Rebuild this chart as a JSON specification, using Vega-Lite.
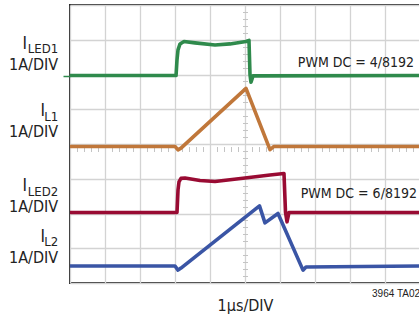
{
  "$schema": "https://vega.github.io/schema/vega-lite/v6.json",
  "width": 350,
  "height": 278,
  "autosize": {"type": "none"},
  "padding": {"left": 70, "top": 5, "right": 0, "bottom": 37},
  "background": "white",
  "config": {
    "view": {"stroke": "#2a2a2a", "strokeWidth": 2},
    "font": "DejaVu Sans Condensed, DejaVu Sans"
  },
  "datasets": {
    "traces": [
      {"s": "ILED1", "t": 0, "v": 5.97}, {"s": "ILED1", "t": 3.03, "v": 5.97}, {"s": "ILED1", "t": 3.057, "v": 6.42}, {"s": "ILED1", "t": 3.086, "v": 6.71}, {"s": "ILED1", "t": 3.143, "v": 6.88}, {"s": "ILED1", "t": 3.257, "v": 6.95}, {"s": "ILED1", "t": 3.571, "v": 6.91}, {"s": "ILED1", "t": 4.143, "v": 6.85}, {"s": "ILED1", "t": 4.571, "v": 6.88}, {"s": "ILED1", "t": 5.029, "v": 6.95}, {"s": "ILED1", "t": 5.114, "v": 6.98}, {"s": "ILED1", "t": 5.143, "v": 5.99}, {"s": "ILED1", "t": 5.171, "v": 5.78}, {"s": "ILED1", "t": 5.229, "v": 5.96}, {"s": "ILED1", "t": 10, "v": 5.97},
      {"s": "IL1", "t": 0, "v": 3.93}, {"s": "IL1", "t": 3.0, "v": 3.93}, {"s": "IL1", "t": 3.086, "v": 3.83}, {"s": "IL1", "t": 3.171, "v": 3.88}, {"s": "IL1", "t": 5.029, "v": 5.6}, {"s": "IL1", "t": 5.714, "v": 3.84}, {"s": "IL1", "t": 5.829, "v": 3.93}, {"s": "IL1", "t": 10, "v": 3.93},
      {"s": "ILED2", "t": 0, "v": 2.03}, {"s": "ILED2", "t": 3.057, "v": 2.03}, {"s": "ILED2", "t": 3.086, "v": 2.68}, {"s": "ILED2", "t": 3.114, "v": 2.91}, {"s": "ILED2", "t": 3.171, "v": 3.01}, {"s": "ILED2", "t": 3.286, "v": 3.02}, {"s": "ILED2", "t": 3.714, "v": 2.95}, {"s": "ILED2", "t": 4.143, "v": 2.92}, {"s": "ILED2", "t": 5.0, "v": 3.02}, {"s": "ILED2", "t": 5.714, "v": 3.11}, {"s": "ILED2", "t": 6.114, "v": 3.15}, {"s": "ILED2", "t": 6.157, "v": 2.04}, {"s": "ILED2", "t": 6.2, "v": 1.76}, {"s": "ILED2", "t": 6.257, "v": 2.03}, {"s": "ILED2", "t": 10, "v": 2.03},
      {"s": "IL2", "t": 0, "v": 0.49}, {"s": "IL2", "t": 3.0, "v": 0.49}, {"s": "IL2", "t": 3.086, "v": 0.37}, {"s": "IL2", "t": 3.171, "v": 0.43}, {"s": "IL2", "t": 5.414, "v": 2.22}, {"s": "IL2", "t": 5.571, "v": 1.73}, {"s": "IL2", "t": 5.943, "v": 2.0}, {"s": "IL2", "t": 6.657, "v": 0.37}, {"s": "IL2", "t": 6.743, "v": 0.46}, {"s": "IL2", "t": 10, "v": 0.49}
    ],
    "labels": [
      {"sub": "LED1", "lv": 6.13, "kind": "long"},
      {"sub": "L1", "lv": 4.2, "kind": "short"},
      {"sub": "LED2", "lv": 2.04, "kind": "long"},
      {"sub": "L2", "lv": 0.58, "kind": "short"}
    ],
    "notes": [
      {"label": "PWM DC = 4/8192", "t": 6.51, "v": 6.22},
      {"label": "PWM DC = 6/8192", "t": 6.59, "v": 2.45}
    ],
    "foot": [
      {"label": "3964 TA02b", "t": 8.63, "v": -0.4}
    ]
  },
  "resolve": {"axis": {"x": "independent", "y": "independent"}},
  "layer": [
    {
      "data": {"name": "traces"},
      "mark": {"type": "line", "strokeWidth": 3.6, "strokeJoin": "round", "clip": false},
      "encoding": {
        "x": {"field": "t", "type": "quantitative", "scale": {"domain": [0, 10], "nice": false, "zero": false},
          "axis": {"values": [0,1,2,3,4,5,6,7,8,9,10], "grid": true, "gridColor": "#d3d3d3", "gridWidth": 1.3, "ticks": false, "labels": false, "domain": false, "title": "1μs/DIV", "titleFont": "DejaVu Sans Condensed, DejaVu Sans", "titleFontSize": 16, "titleFontWeight": "normal", "titleColor": "#222", "titleBaseline": "alphabetic", "titleY": 27}},
        "y": {"field": "v", "type": "quantitative", "scale": {"domain": [0, 8], "nice": false, "zero": false},
          "axis": {"values": [0,1,2,3,4,5,6,7,8,5.97,3.93,2.03,0.49], "grid": true,
            "gridColor": {"condition": {"test": "datum.value % 1 === 0", "value": "#d3d3d3"}, "value": "transparent"},
            "gridWidth": 1.3,
            "tickColor": {"condition": {"test": "datum.value === 5.97", "value": "#2f8a4c"}, "value": {"expr": "datum.value === 3.93 ? '#c0773a' : datum.value === 2.03 ? '#990b33' : datum.value === 0.49 ? '#3a55a5' : 'transparent'"}},
            "tickSize": 7, "tickWidth": 1.5, "labels": false, "domain": false, "title": null}},
        "color": {"field": "s", "type": "nominal", "scale": {"domain": ["ILED1", "IL1", "ILED2", "IL2"], "range": ["#2f8a4c", "#c0773a", "#990b33", "#3a55a5"]}, "legend": null},
        "detail": {"field": "s"}
      }
    },
    {
      "data": {"name": "notes"},
      "mark": {"type": "text", "align": "left", "baseline": "alphabetic", "fontSize": 14, "color": "#222"},
      "encoding": {
        "x": {"field": "t", "type": "quantitative",
          "axis": {"values": [0.2,0.4,0.6,0.8,1.2,1.4,1.6,1.8,2.2,2.4,2.6,2.8,3.2,3.4,3.6,3.8,4.2,4.4,4.6,4.8,5.2,5.4,5.6,5.8,6.2,6.4,6.6,6.8,7.2,7.4,7.6,7.8,8.2,8.4,8.6,8.8,9.2,9.4,9.6,9.8], "orient": "bottom", "offset": -136.5, "grid": false, "domain": false, "labels": false, "tickSize": 5, "tickColor": "#c4c4c4", "tickWidth": 1, "title": null}},
        "y": {"field": "v", "type": "quantitative",
          "axis": {"values": [0.2,0.4,0.6,0.8,1.2,1.4,1.6,1.8,2.2,2.4,2.6,2.8,3.2,3.4,3.6,3.8,4.2,4.4,4.6,4.8,5.2,5.4,5.6,5.8,6.2,6.4,6.6,6.8,7.2,7.4,7.6,7.8], "orient": "left", "offset": -177.5, "grid": false, "domain": false, "labels": false, "tickSize": 5, "tickColor": "#c4c4c4", "tickWidth": 1, "title": null}},
        "text": {"field": "label"}
      }
    },
    {
      "data": {"name": "foot"},
      "mark": {"type": "text", "align": "left", "baseline": "alphabetic", "fontSize": 10, "font": "Liberation Sans", "color": "#222", "clip": false},
      "encoding": {
        "x": {"field": "t", "type": "quantitative", "axis": null},
        "y": {"field": "v", "type": "quantitative", "axis": null},
        "text": {"field": "label"}
      }
    },
    {
      "data": {"name": "labels"},
      "mark": {"type": "text", "align": "right", "baseline": "alphabetic", "fontSize": 16, "color": "#222"},
      "encoding": {
        "x": {"datum": -0.34, "type": "quantitative", "axis": null},
        "y": {"field": "lv", "type": "quantitative", "axis": null},
        "text": {"value": "1A/DIV"}
      }
    },
    {
      "data": {"name": "labels"},
      "mark": {"type": "text", "align": "right", "baseline": "alphabetic", "fontSize": 13, "color": "#222", "dy": -16.5},
      "encoding": {
        "x": {"datum": -0.34, "type": "quantitative", "axis": null},
        "y": {"field": "lv", "type": "quantitative", "axis": null},
        "text": {"field": "sub"}
      }
    },
    {
      "data": {"name": "labels"},
      "transform": [{"filter": "datum.kind === 'long'"}],
      "mark": {"type": "text", "align": "right", "baseline": "alphabetic", "fontSize": 17, "color": "#222", "dy": -21, "dx": -31},
      "encoding": {
        "x": {"datum": -0.34, "type": "quantitative", "axis": null},
        "y": {"field": "lv", "type": "quantitative", "axis": null},
        "text": {"value": "I"}
      }
    },
    {
      "data": {"name": "labels"},
      "transform": [{"filter": "datum.kind === 'short'"}],
      "mark": {"type": "text", "align": "right", "baseline": "alphabetic", "fontSize": 17, "color": "#222", "dy": -21, "dx": -13},
      "encoding": {
        "x": {"datum": -0.34, "type": "quantitative", "axis": null},
        "y": {"field": "lv", "type": "quantitative", "axis": null},
        "text": {"value": "I"}
      }
    }
  ]
}
